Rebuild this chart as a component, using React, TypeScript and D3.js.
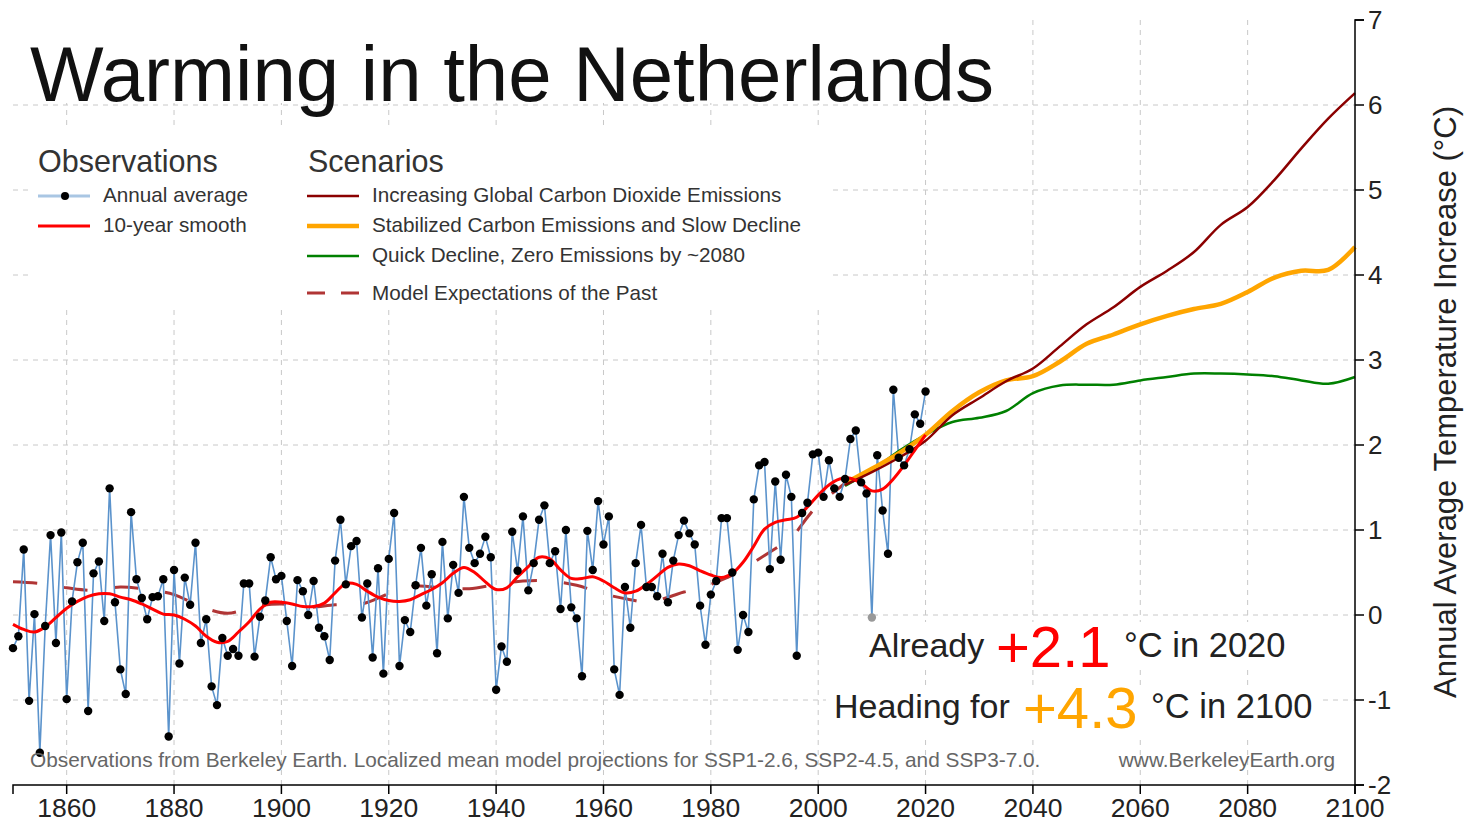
import React from 'react';
import * as d3 from 'd3';

const FIRST_YEAR = 1850;
const annualValues = [
  -0.39, -0.25, 0.77, -1.01, 0.01, -1.62, -0.13, 0.94, -0.33, 0.97,
  -0.99, 0.16, 0.62, 0.85, -1.13, 0.49, 0.63, -0.07, 1.49, 0.15,
  -0.64, -0.93, 1.21, 0.42, 0.20, -0.05, 0.21, 0.22, 0.42, -1.43,
  0.53, -0.57, 0.44, 0.12, 0.85, -0.33, -0.05, -0.84, -1.06, -0.27,
  -0.48, -0.40, -0.48, 0.37, 0.37, -0.49, -0.02, 0.17, 0.68, 0.42,
  0.46, -0.07, -0.60, 0.41, 0.28, 0.00, 0.40, -0.15, -0.25, -0.53,
  0.64, 1.12, 0.36, 0.81, 0.87, -0.03, 0.37, -0.50, 0.55, -0.69,
  0.66, 1.20, -0.60, -0.06, -0.20, 0.35, 0.79, 0.11, 0.48, -0.45,
  0.86, -0.04, 0.59, 0.26, 1.39, 0.79, 0.61, 0.72, 0.92, 0.68,
  -0.88, -0.37, -0.55, 0.98, 0.52, 1.16, 0.29, 0.61, 1.12, 1.29,
  0.61, 0.75, 0.07, 1.00, 0.09, -0.04, -0.72, 0.99, 0.53, 1.34,
  0.83, 1.16, -0.64, -0.94, 0.33, -0.15, 0.61, 1.06, 0.33, 0.33,
  0.22, 0.72, 0.15, 0.64, 0.94, 1.11, 0.96, 0.83, 0.11, -0.35,
  0.24, 0.40, 1.14, 1.14, 0.50, -0.41, 0.00, -0.20, 1.36, 1.76,
  1.80, 0.54, 1.57, 0.65, 1.65, 1.39, -0.48, 1.20, 1.32, 1.89,
  1.91, 1.39, 1.82, 1.49, 1.39, 1.60, 2.07, 2.17, 1.56, 1.43,
  -0.03, 1.88, 1.23, 0.72, 2.65, 1.85, 1.76, 1.95, 2.36, 2.25, 2.63,
];
const greyYears = [2010];

const smoothYears = [
  1850, 1852, 1854, 1856, 1858, 1860, 1862, 1864, 1866, 1868, 1870, 1872, 1874, 1876, 1878,
  1880, 1882, 1884, 1886, 1888, 1890, 1892, 1894, 1896, 1898, 1900, 1902, 1904, 1906, 1908,
  1910, 1912, 1914, 1916, 1918, 1920, 1922, 1924, 1926, 1928, 1930, 1932, 1934, 1936, 1938,
  1940, 1942, 1944, 1946, 1948, 1950, 1952, 1954, 1956, 1958, 1960, 1962, 1964, 1966, 1968,
  1970, 1972, 1974, 1976, 1978, 1980, 1982, 1984, 1986, 1988, 1990, 1992, 1994, 1996, 1998,
  2000, 2002, 2004, 2006, 2008, 2010, 2012, 2014, 2016, 2018, 2020,
];
const smoothValues = [
  -0.11, -0.17, -0.20, -0.14, -0.03, 0.08, 0.16, 0.22, 0.25, 0.25, 0.21, 0.18, 0.13, 0.07, 0.01,
  0.00, -0.05, -0.13, -0.25, -0.32, -0.31, -0.20, -0.08, 0.07, 0.15, 0.15, 0.13, 0.10, 0.10, 0.14,
  0.26, 0.37, 0.36, 0.28, 0.21, 0.17, 0.16, 0.18, 0.24, 0.30, 0.38, 0.49, 0.56, 0.50, 0.39,
  0.30, 0.32, 0.45, 0.57, 0.68, 0.66, 0.53, 0.43, 0.43, 0.45, 0.40, 0.32, 0.26, 0.28, 0.36,
  0.46, 0.56, 0.60, 0.58, 0.52, 0.47, 0.44, 0.49, 0.62, 0.81, 1.01, 1.09, 1.12, 1.15, 1.27,
  1.41, 1.53, 1.60, 1.61, 1.55, 1.46, 1.48, 1.60, 1.76, 1.94, 2.12,
];

const pastYears = [
  1850, 1855, 1860, 1865, 1870, 1875, 1880, 1885, 1890, 1895, 1900, 1905, 1910, 1915, 1920,
  1925, 1930, 1935, 1940, 1945, 1950, 1955, 1960, 1965, 1968, 1970, 1973, 1975, 1978, 1980,
  1983, 1985, 1987, 1990, 1993, 1995, 1996, 1998, 2000, 2002, 2005,
];
const pastValues = [
  0.39, 0.37, 0.32, 0.29, 0.33, 0.30, 0.24, 0.10, 0.02, 0.10, 0.13, 0.09, 0.12, 0.13, 0.25,
  0.34, 0.32, 0.31, 0.36, 0.40, 0.40, 0.35, 0.25, 0.18, 0.15, 0.17, 0.23, 0.27, 0.31, 0.36,
  0.44, 0.50, 0.58, 0.70, 0.82, 0.90, 0.98, 1.15, 1.30, 1.40, 1.55,
];

const scenarioYears = [
  2005, 2010, 2015, 2020, 2025, 2030, 2035, 2040, 2045, 2050,
  2055, 2060, 2065, 2070, 2075, 2080, 2085, 2090, 2095, 2100,
];
const increasingValues = [
  1.53, 1.68, 1.85, 2.05, 2.35, 2.55, 2.75, 2.90, 3.16, 3.42,
  3.62, 3.86, 4.05, 4.27, 4.59, 4.80, 5.12, 5.49, 5.84, 6.14,
];
const stabilizedValues = [
  1.55, 1.72, 1.90, 2.12, 2.40, 2.62, 2.76, 2.81, 2.98, 3.19,
  3.30, 3.42, 3.52, 3.60, 3.66, 3.80, 3.97, 4.05, 4.06, 4.33,
];
const quickValues = [
  1.52, 1.70, 1.93, 2.12, 2.27, 2.32, 2.40, 2.61, 2.70, 2.71,
  2.71, 2.76, 2.80, 2.84, 2.84, 2.83, 2.81, 2.76, 2.72, 2.80,
];

const xTickYears = [1860, 1880, 1900, 1920, 1940, 1960, 1980, 2000, 2020, 2040, 2060, 2080, 2100];
const yTickValues = [-2, -1, 0, 1, 2, 3, 4, 5, 6, 7];

const FONT = '"Liberation Sans", Arial, Helvetica, sans-serif';
const C_INC = '#8b0000';
const C_STAB = '#ffa500';
const C_QUICK = '#008000';
const C_PAST = '#b03535';
const C_RED = '#ff0000';
const C_OBS = '#5b93cc';

export default function App() {
  const W = 1466;
  const H = 823;
  const x = d3.scaleLinear().domain([1850, 2100]).range([13, 1355]);
  const y = d3.scaleLinear().domain([-2, 7]).range([785, 20]);

  const annual = annualValues.map((v, i) => ({ year: FIRST_YEAR + i, v }));
  const obsLine = d3.line<{ year: number; v: number }>().x((d) => x(d.year)).y((d) => y(d.v));
  const smoothLine = d3
    .line<[number, number]>()
    .x((d) => x(d[0]))
    .y((d) => y(d[1]))
    .curve(d3.curveCatmullRom.alpha(0.5));

  const smooth: [number, number][] = smoothYears.map((yr, i) => [yr, smoothValues[i]]);
  const past: [number, number][] = pastYears.map((yr, i) => [yr, pastValues[i]]);
  const inc: [number, number][] = scenarioYears.map((yr, i) => [yr, increasingValues[i]]);
  const stab: [number, number][] = scenarioYears.map((yr, i) => [yr, stabilizedValues[i]]);
  const quick: [number, number][] = scenarioYears.map((yr, i) => [yr, quickValues[i]]);

  const x0 = x.range()[0];
  const x1 = x.range()[1];
  const yBottom = y.range()[0];
  const yTop = y.range()[1];

  const gridV = xTickYears.filter((t) => t < 2100);
  const gridH = yTickValues.filter((t) => t > -2 && t < 7);

  return (
    <svg
      width={W}
      height={H}
      style={{ position: 'absolute', left: 0, top: 0, background: '#fff' }}
      fontFamily={FONT}
    >
      <rect x={0} y={0} width={W} height={H} fill="#fff" />
      {/* grid */}
      <g stroke="#c8c8c8" strokeWidth={1} strokeDasharray="5,5">
        {gridV.map((t) => (
          <line key={'gv' + t} x1={x(t)} x2={x(t)} y1={yTop} y2={yBottom} />
        ))}
        {gridH.map((t) => (
          <line key={'gh' + t} x1={x0} x2={x1} y1={y(t)} y2={y(t)} />
        ))}
      </g>

      {/* white boxes behind title, legend and annotations */}
      <rect x={25} y={18} width={975} height={85} fill="#fff" />
      <rect x={30} y={130} width={800} height={180} fill="#fff" />
      <rect x={860} y={622} width={432} height={47} fill="#fff" />
      <rect x={826} y={685} width={492} height={52} fill="#fff" />

      {/* model past */}
      <path
        d={smoothLine(past) || ''}
        fill="none"
        stroke={C_PAST}
        strokeWidth={3}
        strokeDasharray="24,27"
      />

      {/* observations */}
      <path d={obsLine(annual) || ''} fill="none" stroke={C_OBS} strokeWidth={1.6} />

      {/* scenarios */}
      <path d={smoothLine(quick) || ''} fill="none" stroke={C_QUICK} strokeWidth={2.5} />
      <path d={smoothLine(stab) || ''} fill="none" stroke={C_STAB} strokeWidth={4.5} />
      <path d={smoothLine(inc) || ''} fill="none" stroke={C_INC} strokeWidth={2.5} />

      {/* smooth */}
      <path d={smoothLine(smooth) || ''} fill="none" stroke={C_RED} strokeWidth={3} />

      {annual.map((d) => (
        <circle
          key={'p' + d.year}
          cx={x(d.year)}
          cy={y(d.v)}
          r={4.2}
          fill={greyYears.includes(d.year) ? '#999' : '#000'}
        />
      ))}

      {/* x axis */}
      <path
        d={`M${x0},${yBottom + 9}V${yBottom}H${x1}V${yBottom + 9}`}
        fill="none"
        stroke="#000"
        strokeWidth={1.5}
      />
      {xTickYears.map((t) => (
        <g key={'xt' + t}>
          <line x1={x(t)} x2={x(t)} y1={yBottom} y2={yBottom + 9} stroke="#000" strokeWidth={1.5} />
          <text x={x(t)} y={817} textAnchor="middle" fontSize={26.5} fill="#222">
            {t}
          </text>
        </g>
      ))}

      {/* y axis (right) */}
      <path
        d={`M${x1 + 9},${yTop}H${x1}V${yBottom}H${x1 + 9}`}
        fill="none"
        stroke="#000"
        strokeWidth={1.5}
      />
      {yTickValues.map((t) => (
        <g key={'yt' + t}>
          <line x1={x1} x2={x1 + 9} y1={y(t)} y2={y(t)} stroke="#000" strokeWidth={1.5} />
          <text x={x1 + 13} y={y(t) + 9} fontSize={26} fill="#222">
            {t}
          </text>
        </g>
      ))}
      <text
        transform="translate(1456,402) rotate(-90)"
        textAnchor="middle"
        fontSize={31}
        fill="#222"
      >
        Annual Average Temperature Increase (°C)
      </text>

      {/* title */}
      <text x={30} y={101} fontSize={78} fill="#111">
        Warming in the Netherlands
      </text>

      {/* legend */}
      <g fill="#333">
        <text x={38} y={172} fontSize={30.5}>Observations</text>
        <text x={308} y={172} fontSize={30.5}>Scenarios</text>
        <text x={103} y={202} fontSize={20.7}>Annual average</text>
        <text x={103} y={232} fontSize={20.7}>10-year smooth</text>
        <text x={372} y={202} fontSize={20.7}>Increasing Global Carbon Dioxide Emissions</text>
        <text x={372} y={232} fontSize={20.7}>Stabilized Carbon Emissions and Slow Decline</text>
        <text x={372} y={262} fontSize={20.7}>Quick Decline, Zero Emissions by ~2080</text>
        <text x={372} y={300} fontSize={20.7}>Model Expectations of the Past</text>
      </g>
      <line x1={38} x2={90} y1={196} y2={196} stroke="#a9c6e3" strokeWidth={3} />
      <circle cx={65} cy={196} r={4} fill="#000" />
      <line x1={38} x2={90} y1={226} y2={226} stroke={C_RED} strokeWidth={3} />
      <line x1={307} x2={359} y1={196} y2={196} stroke={C_INC} strokeWidth={2.5} />
      <line x1={307} x2={359} y1={226} y2={226} stroke={C_STAB} strokeWidth={4.5} />
      <line x1={307} x2={359} y1={256} y2={256} stroke={C_QUICK} strokeWidth={2.5} />
      <line
        x1={307}
        x2={359}
        y1={293}
        y2={293}
        stroke={C_PAST}
        strokeWidth={3}
        strokeDasharray="18,16"
      />

      {/* annotations */}
      <g fill="#222">
        <text x={869} y={657} fontSize={34}>Already</text>
        <text x={996} y={667} fontSize={58} fill={C_RED}>+2.1</text>
        <text x={1124} y={657} fontSize={34.5}>°C in 2020</text>
        <text x={834} y={718} fontSize={34}>Heading for</text>
        <text x={1023} y={728} fontSize={58} fill={C_STAB}>+4.3</text>
        <text x={1151} y={718} fontSize={34.5}>°C in 2100</text>
      </g>

      {/* footer */}
      <text x={30} y={767} fontSize={20.8} fill="#666">
        Observations from Berkeley Earth. Localized mean model projections for SSP1-2.6, SSP2-4.5, and SSP3-7.0.
      </text>
      <text x={1335} y={767} fontSize={20.8} fill="#666" textAnchor="end">
        www.BerkeleyEarth.org
      </text>
    </svg>
  );
}
